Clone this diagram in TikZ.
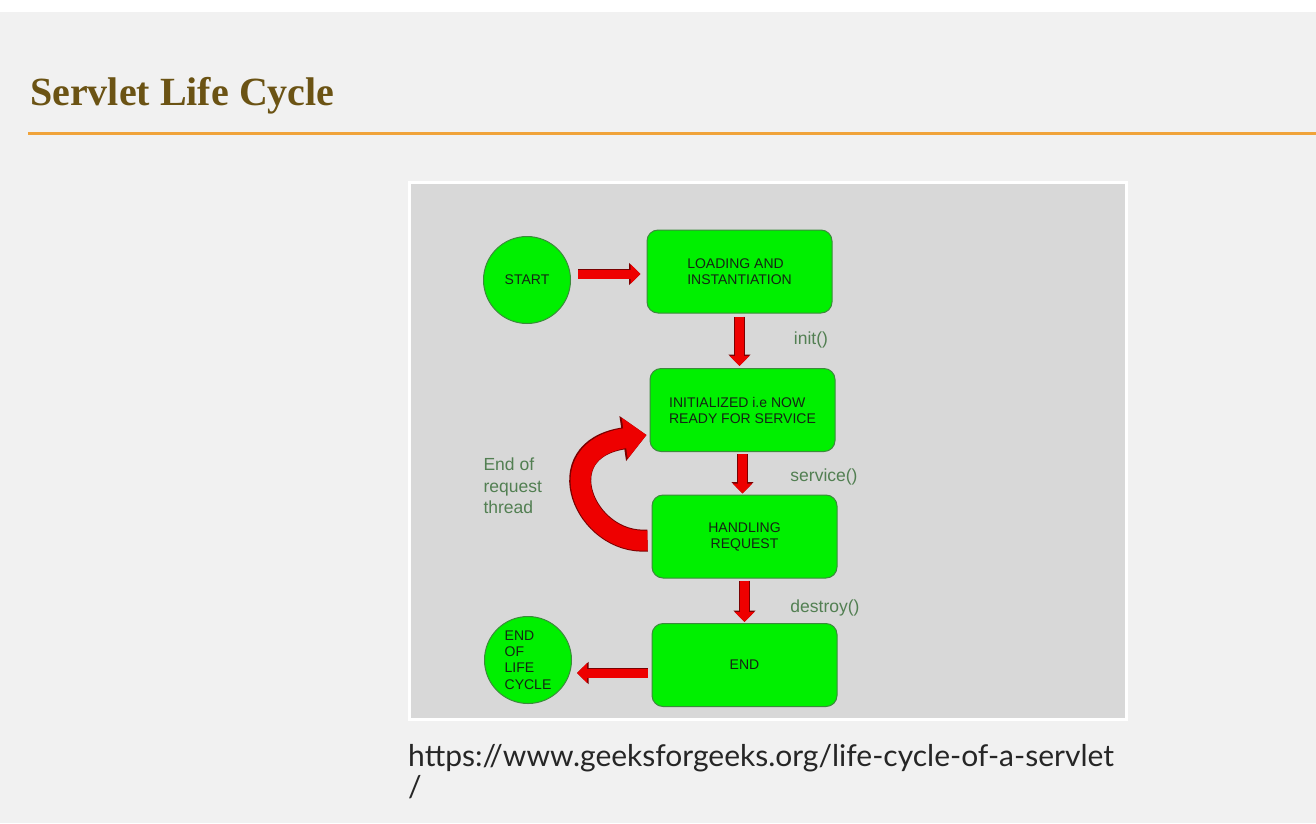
\documentclass[tikz,border=0pt]{standalone}
\usepackage{fontspec}
\setmainfont{Liberation Sans}
\newfontfamily\titlefont{Liberation Serif}
\newfontfamily\linkfont{Lato}
\usetikzlibrary{positioning, calc, arrows.meta}
\definecolor{Page}{HTML}{F1F1F1}
\definecolor{Frame}{HTML}{D8D8D8}
\definecolor{Title}{HTML}{6B5314}
\definecolor{Rule}{HTML}{F0A33A}
\definecolor{Box}{HTML}{00F000}
\definecolor{BoxLine}{HTML}{3C8A3C}
\definecolor{BoxText}{HTML}{142414}
\definecolor{Note}{HTML}{527F52}
\definecolor{Arrow}{HTML}{EE0000}
\definecolor{ArrowEdge}{HTML}{7A0000}
\tikzset{
    statebox/.style={rectangle, rounded corners=11pt, draw=BoxLine, line width=1pt, fill=Box, text=BoxText, minimum width=185pt, minimum height=83pt, font=\fontsize{14}{16}\selectfont, align=left},
    statecirc/.style={circle, draw=BoxLine, line width=1pt, fill=Box, text=BoxText, minimum size=87pt, inner sep=0pt, font=\fontsize{14}{16.3}\selectfont, align=left},
    note/.style={text=Note, font=\fontsize{17.5}{21.5}\selectfont, align=left},
    fatarrow/.style={-{Triangle[length=10pt, width=19pt]}, line width=9pt, Arrow,
        preaction={draw=ArrowEdge, line width=10.5pt, -{Triangle[length=11.5pt, width=21.5pt]}}},
    ribbon/.style={-{Triangle[length=22pt, width=40pt]}, line width=20pt, Arrow,
        preaction={draw=ArrowEdge, line width=22pt, -{Triangle[length=24pt, width=44pt]}}},
}

\begin{document}
\begin{tikzpicture}[x=1pt, y=-1pt]
    % page
    \fill[white] (0,0) rectangle (1316,823);
    \fill[Page] (0,12) rectangle (1316,823);
    \useasboundingbox (0,0) rectangle (1316,823);

    % Heading
    \node[anchor=base west, inner sep=0pt, text=Title, font=\titlefont\bfseries\fontsize{40}{48}\selectfont] (title) at (30,105) {Servlet Life Cycle};
    \draw[Rule, line width=3pt] (28,133) -- (1316,133);

    % Picture frame
    \fill[white] (408,181) rectangle (1128,721);
    \fill[Frame] (411,184) rectangle (1125,718);

    % States
    \node[statecirc] (start) at (527,280) {START};
    \node[statebox] (load) at (739.5,271.5) {LOADING AND\\INSTANTIATION};
    \node[statebox] (init) at (742.5,410) {INITIALIZED i.e NOW\\READY FOR SERVICE};
    \node[statebox, align=center] (handle) at (744.5,536.5) {HANDLING\\REQUEST};
    \node[statebox] (finish) at (744.5,665) {END};
    \node[statecirc] (eol) at (528,660) {END\\OF\\LIFE\\CYCLE};

    % Transitions
    \draw[fatarrow, shorten <=7pt, shorten >=6pt] ([yshift=6pt]start.east) -- ([yshift=6pt]start.east -| load.west);
    \draw[fatarrow, shorten <=3pt, shorten >=2pt] (load.south) -- (load.south |- init.north);
    \draw[fatarrow, shorten <=2pt, shorten >=1pt] (init.south) -- (init.south |- handle.north);
    \draw[fatarrow, shorten <=2pt, shorten >=1pt] (handle.south) -- (handle.south |- finish.north);
    \draw[fatarrow, shorten <=4pt, shorten >=5pt] ([yshift=-8pt]finish.west) -- ([yshift=-8pt]finish.west -| eol.east);
    \draw[ribbon] ([shift={(-4pt,-4pt)}]handle.west) .. controls (585,545) and (545,450) .. ([shift={(-3pt,-25pt)}]init.west);

    % Method labels
    \node[note] (initlbl) at (811,340) {init()};
    \node[note] (servicelbl) at (824,477) {service()};
    \node[note] (destroylbl) at (825,608) {destroy()};
    \node[note, anchor=west] (threadlbl) at (480,486) {End of\\request\\thread};

    % Source
    \node[anchor=base west, inner sep=0pt, text=black!85, font=\linkfont\fontsize{30}{36}\selectfont] (source) at (408,766) {https://www.geeksforgeeks.org/life-cycle-of-a-servlet};
    \node[anchor=base west, inner sep=0pt, text=black!85, font=\linkfont\fontsize{30}{36}\selectfont] (slash) at (408,797) {/};
\end{tikzpicture}
\end{document}
